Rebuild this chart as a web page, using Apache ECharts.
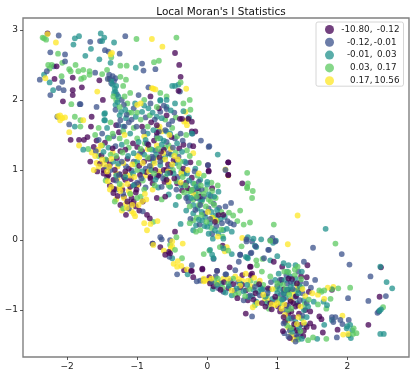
<!DOCTYPE html>
<html><head><meta charset="utf-8">
<style>html,body{margin:0;padding:0;background:#fff}#c{width:413px;height:376px}</style>
<script src="https://cdn.jsdelivr.net/npm/echarts@6/dist/echarts.min.js"></script>
</head><body><div id="c"></div>
<script>
const chartTitle = "Local Moran's I Statistics";
const xTicks = [-2,-1,0,1,2];
const yTicks = [-1,0,1,2,3];
const classNames = ['-10.80, -0.12','-0.12, -0.01','-0.01, 0.03','0.03, 0.17','0.17, 10.56'];
const classLow = ['-10.80,','-0.12,','-0.01,','0.03,','0.17,'];
const classHigh = ['-0.12','-0.01','0.03','0.17','10.56'];
const classColors = ['#440154','#3b528b','#21918c','#5ec962','#fde725'];

const purple = [[-2.28,2.95],[-.46,2.67],[-.40,2.50],[-.38,2.33],[-2.15,2.48],[-2.18,2.30],[-1.92,2.32],[-1.92,2.14],[-1.92,2.07],[-1.79,2.18],[-2.06,1.98],[-1.54,2.28],[-1.49,2.0],
[-1.95,1.43],[-1.76,1.43],[-1.71,1.47],[-1.66,1.62],[-1.65,1.76],[-1.30,1.64],[-.80,1.68],[-.84,1.36],[-1.83,1.43],[-1.67,1.12],[-1.53,1.09],[-1.44,1.14],[-1.35,1.31],[-1.17,1.29],[-1.24,1.27],[-1.48,1.0],[-1.41,.93],[-1.12,1.02],[-.96,.93],[-.62,1.0],[-.81,.88],[-.58,.86],[-1.34,.86],[-1.17,.86],[-1.0,1.33],
[-.72,1.64],[-.69,1.88],[-.81,2.05],[-.39,1.73],[-.22,1.69],[-.17,1.55],[-.34,1.36],[-.20,1.34],[.30,1.11],[.30,.93],[.02,.99],[.01,1.07],[.50,.81],[.07,.74],[-.22,.89],[-.48,1.14],[-.74,1.0],[-.53,.96],[-.58,1.0],[-.43,.81],[-.72,1.53],[-.62,1.29],
[.16,.36],[.23,.36],[.11,.26],[.22,-.08],[.32,-.39],[-.07,-.42],[-.23,-.44],[.14,-.44],[.62,-.38],[.95,-.31],[1.07,-.38],[.62,-.5],
[.64,-.48],[.61,-.38],[.5,-.5],[.04,-.62],[.19,-.71],[.3,-.69],[.5,-.64],[.58,-.86],[.69,-.76],[.78,-.9],[.9,-.9],[.92,-.99],[1.04,-1.02],[.55,-1.05],[1.23,-1.1],[1.11,-1.17],[1.28,-1.29],[1.09,-.71],[1.16,-.55],[1.3,-.71],[1.19,-.86],[1.26,-.95],
[1.43,-.36],[1.42,-.53],[1.78,-.71],[1.09,-1.1],[1.16,-1.05],[1.23,-1.26],[1.33,-1.21],[1.47,-1.19],[1.52,-1.24],[1.6,-1.09],[1.65,-1.32],[1.86,-1.28],[2.3,-1.21],[1.63,-1.13],[1.19,-.88],[1.3,-.93],[1.28,-.62],[1.47,-1.02],[1.28,-1.39],[1.38,-1.29],[1.4,-1.0],[1.23,-.9],[2.48,-.39],[2.46,-.81],
[-1.34,.67],[-.98,.8],[-1.08,.6],[-1.08,.52],[-1.16,.36],[-.92,.55],[-.86,.36],[-.82,.31],[-.72,.6],[-.46,.12],[-.78,-.05],[-.67,-.1],[-.55,-.17],[-.53,-.19],[-.6,-.21],[-.33,-.43],[-1.19,.9],[-1.43,.9],[-1.48,.95],[-1.17,.98],[-.81,.9],[-1.02,.68],[-1.19,.62],[-1.02,.48],
[.02,.98],[.3,.93],[.3,1.11],[-.22,-.44],[-.2,-.53],[-.07,-.41],[-.36,.71],[-.3,.82],[-.1,.62],[-.41,2.13],[-.36,1.73],[-.27,1.73],[-.22,1.55],[-1.39,.78],[-1.32,1.0],[-1.1,.76],[-.9,1.12],[-.68,1.18],[-.6,.62],
[-1.62,1.33],[-1.57,.98],[-1.51,1.21],[-1.46,1.39],[-1.39,1.08],[-1.33,.73],[-1.29,1.17],[-1.25,.94],[-1.21,.72],[-1.14,1.16],[-1.09,.87],[-1.06,1.38],[-1.01,.72],[-.97,1.06],[-.93,1.27],[-.87,.97],[-.83,1.16],[-.78,.81],[-.76,1.42],[-.7,.92],[-.66,1.26],[-.61,.83],[-.56,1.08],[-.51,1.47],[-.47,.88],[-.4,1.31],[-.34,1.02],[-.28,.74],[-.24,1.11],[-.13,.74],
[.03,-.53],[.09,-.66],[.24,-.6],[.37,-.63],[.43,-.83],[.47,-.68],[.55,-.72],[.66,-.85],[.74,-.63],[.83,-.95],[.87,-.69],[.97,-.81],[1.01,-.95],[1.06,-.57],[1.13,-.93],[1.18,-1.4],[1.21,-.56],[1.24,-1.2],[1.27,-.8],[1.31,-1.05],[1.34,-.52],[1.37,-1.37],[1.42,-1.24],[1.45,-.74],[1.15,-.71],[1.08,-1.3],[1.2,-1.02],
[-1.58,1.42],[-1.26,1.54],[-.93,1.62],[-.58,1.78],[-1.14,.55],[-1.28,.63],[-1.05,.55],[-.97,.42],[-1.24,.5]];

const blue = [[-2.12,2.92],[-1.67,2.83],[-1.53,2.84],[-1.17,2.91],[-2.24,2.68],[-2.03,2.65],[-1.46,2.71],[-1.41,2.69],[-1.25,2.66],[-.93,2.52],[-.91,2.42],[-.74,2.44],[-2.39,2.29],[-2.29,2.41],[-2.19,2.48],[-2.07,2.26],[-2.12,2.17],[-2.05,2.14],[-2.24,2.07],[-2.03,2.55],[-1.81,1.94],[-1.60,2.39],[-1.58,1.90],[-2.14,1.76],[-1.97,1.65],[-1.39,2.3],[-1.35,2.34],[-1.42,2.3],[-1.37,2.24],[-1.33,2.27],[-.84,2.18],
[-1.82,1.94],[-1.31,1.86],[-1.24,1.71],[-1.15,1.79],[-1.05,1.88],[-.98,2.07],[-.67,1.83],[-.81,1.95],[-1.27,1.64],[-1.55,1.43],[-.91,1.55],[-.72,1.48],[-.58,1.4],[-.96,1.24],[-.77,1.17],[-1.22,1.12],[-1.38,1.0],[-1.26,.93],[-.88,1.02],[-1.08,.99],[-.67,.95],
[-.39,2.12],[-.58,1.87],[-.47,1.82],[-.5,1.7],[-.09,1.42],[.02,1.33],[-.21,1.52],[.26,1.0],[-.6,1.57],[-.79,1.19],[-.67,1.12],[-.46,1.45],[-.41,1.19],[-.55,1.24],[-.72,.9],[-.34,.79],[-.12,.83],[-.65,.76],[.03,1.34],[.01,1.07],
[.05,.63],[.34,.53],[-.1,.5],[-.05,.62],[-.17,.43],[.02,.45],[.26,.48],[.07,.09],[.33,.24],[.38,.22],[.21,.24],[.56,.01],[.64,-.02],[.9,0],[.97,-.02],[.88,-.14],[.69,-.09],[.63,-.18],[.81,-.26],[.47,-.21],[.09,-.27],[.45,-.31],[-.22,-.36],[.26,-.49],
[.14,-.44],[.27,-.49],[.4,-.43],[-.05,-.57],[.16,-.69],[.23,-.74],[.61,-.79],[.52,-.86],[.64,-1.09],[.8,-.7],[.97,-.86],[1.09,-.84],[1.04,-.57],[1.16,-.95],[1.09,-1.19],[1.16,-1.38],[1.26,-1.36],[1.3,-.45],
[2.03,-.35],[2.33,-.52],[2.01,-.83],[2.3,-.87],[1.38,-.31],[1.54,-.57],[1.33,-.6],[1.48,-.68],[1.9,-1.14],[1.83,-1.1],[1.78,-1.1],[1.8,-1.17],[2.02,-1.14],[1.93,-1.2],[1.14,-.62],[1.1,-.76],[1.26,-.81],[1.42,-.9],[1.26,-1.45],[1.33,-1.36],[1.11,-1.0],[1.2,-1.12],[2.45,-1.02],[2.43,-1.04],[2.55,-.8],[1.51,-.11],[1.92,-.2],[1.85,-1.39],[.62,-.19],[.47,-.21],[.93,.03],[.87,-.14],[.56,-.02],
[-.67,.04],[-.65,.01],[-.53,0],[-.78,-.05],[-.54,-.24],[-.43,-.49],[-.15,-.59],[-.1,-.58],[-1.12,.45],[-.92,.41],[-1.3,.85],[-1.0,.82],[-.2,.72],[-.3,.6],[-.42,.9],[-1.05,1.12],[-.25,1.35],[-.3,1.1],[-.35,1.42],[-.55,1.65],
[-1.4,2.36],[-1.31,2.31],[-1.29,2.08],[-1.22,2.0],[-1.19,1.93],[-1.12,1.68],[-1.01,1.62],[-1.59,1.27],[-1.44,1.04],[-1.31,1.34],[-1.16,1.05],[-1.04,.79],[-.94,.88],[-.86,1.38],[-.82,1.06],[-.74,1.28],[-.69,1.55],[-.63,.88],[-.52,1.05],[-.49,1.32],[-.44,.72],[-.38,1.52],[-.33,.95],[-.27,.55],[-.18,.98],[-.15,.6],[-.08,.72],[-.03,.38],[.04,.3],[.09,.52],[.13,.2],[.17,.46],[.29,.27],[-.24,.3],[-.11,.22],
[.06,-.6],[.12,-.52],[.33,-.58],[.39,-.72],[.44,-.6],[.68,-.67],[.75,-.79],[.86,-.76],[.91,-.6],[1.0,-.66],[1.05,-.78],[1.13,-.5],[1.19,-.6],[1.22,-.7],[1.32,-.86],[1.36,-.76],[1.1,-1.33],[1.18,-1.29],[1.3,-1.32],[1.36,-1.08],[1.41,-.62],
[-1.5,1.52],[-1.34,1.48],[-1.18,1.62],[-1.08,1.72],[-.88,1.75],[-.75,1.72],[-.62,1.92],[-1.2,.66],[-1.3,.72],[-.88,.75]];

const teal = [[-1.89,2.88],[-1.83,2.91],[-1.91,2.79],[-1.66,2.73],[-1.52,2.95],[-1.47,2.89],[-1.50,2.84],[-1.33,2.82],[-1.74,2.63],[-1.54,2.58],[-1.38,2.53],[-1.02,2.46],[-2.33,2.36],[-2.25,2.25],[-2.20,2.14],[-1.47,1.80],[-1.89,1.62],[-1.77,1.29],[-1.46,1.71],[-1.33,2.10],[-1.28,1.97],[-1.3,2.2],[-1.35,2.22],
[-1.31,2.12],[-1.46,1.81],[-1.47,1.71],[-1.43,1.6],[-1.17,1.86],[-1.31,1.93],[-1.03,1.95],[-.67,2.0],[-.58,1.9],[-.65,1.74],[-.84,1.88],[-.93,1.83],[-1.2,1.62],[-1.1,1.52],[-.77,1.57],[-.58,1.55],[-.88,1.43],[-.65,1.36],[-1.48,1.26],[-1.22,1.36],[-1,1.12],[-.93,.98],[-.67,1.07],[-1.34,1.12],[-1.17,.9],[-1.05,1.24],[-.79,1.29],
[-.67,1.99],[-.58,2.0],[-.46,1.95],[-.34,1.84],[-.26,1.75],[-.22,1.52],[.15,1.22],[-.17,1.02],[-.72,1.76],[-.53,1.52],[-.67,1.45],[-.43,1.38],[-.36,1.26],[-.77,1.12],[-.6,1.19],[-.2,.81],[-.1,.86],[-.29,.95],[-.48,.95],[-.74,.86],[0,.79],[-.53,.76],[-.46,2.2],[-.41,2.22],[-.5,2.2],
[-.15,.76],[0,.83],[.16,.69],[-.1,.57],[-.2,.38],[-.2,.14],[-.03,.33],[.14,.43],[-.12,.29],[.04,.24],[.23,.14],[.35,.12],[.11,.14],[0,.19],[.77,.01],[.66,.02],[.58,.04],[.7,-.1],[.07,-.21],[.09,-.26],[.04,-.14],[.57,-.25],[.23,-.12],[.35,-.2],[.9,-.29],[1.0,-.23],[1.09,-.33],[.23,.02],[.55,-.24],[.58,-.26],[.94,-.04],[.98,-.01],[.68,-.08],
[.47,-.62],[.35,-.79],[.14,-.64],[.42,-.69],[.66,-.71],[.73,-.74],[.83,-.81],[.59,-.81],[1.0,-.76],[1.09,-.76],[1.14,-.71],[1.04,-.62],[.97,-.57],[1.26,-.55],[1.14,-.45],[1.02,-.48],[.57,-.64],[.78,-.71],[.88,-.71],
[1.35,-.45],[1.26,-.36],[1.16,-.36],[1.11,-.57],[1.19,-.67],[1.3,-.76],[1.38,-.86],[1.52,-.88],[1.66,-.88],[1.71,-.93],[1.78,-1.14],[2.04,-1.21],[1.99,-1.26],[2.07,-1.29],[2.02,-1.36],[1.38,-1.0],[1.26,-1.17],[1.21,-1.31],[1.35,-1.41],[1.42,-1.1],[1.4,-1.21],[1.57,-1.41],[1.28,-.9],[1.67,-1.21],[2.05,-1.4],[2.0,-1.23],
[2.47,-.38],[2.56,-.6],[2.64,-.69],[1.69,.16],[2.47,-1.34],[2.52,-1.34],[2.48,-.99],[2.46,-1.01],[-.38,.23],[-.5,-.26],[-.28,-.49],[-1.05,.78],[-1.3,.92],[-.55,.65],[-.45,.5],[-.28,.62],[-.2,.5],[-.08,.4],[-.3,.42],
[-1.37,2.28],[-1.32,2.16],[-1.27,2.05],[-1.23,1.83],[-1.16,1.74],[-1.41,1.32],[-1.27,1.09],[-1.13,1.2],[-1.06,.95],[-.98,1.4],[-.9,1.22],[-.85,1.52],[-.8,1.0],[-.73,1.22],[-.7,.75],[-.62,1.42],[-.57,.95],[-.52,1.22],[-.45,1.1],[-.41,.62],[-.37,.78],[-.32,1.12],[-.26,.85],[-.23,.6],[-.17,.67],[-.14,.45],[-.07,.58],[-.04,.2],[.02,.65],[.06,.4],[.1,.62],[.12,.35],[.19,.3],[.25,.33],[.28,.16],[-.16,.21],[-.07,.28],[.02,.09],[.08,.02],[.16,.1],
[.08,-.7],[.2,-.62],[.26,-.75],[.31,-.66],[.52,-.73],[.64,-.8],[.7,-.88],[.76,-.68],[.85,-.9],[.93,-.84],[1.03,-.7],[1.07,-.85],[1.12,-.82],[1.18,-.52],[1.23,-.62],[1.32,-.66],[1.16,-1.12],[1.31,-1.25],[1.44,-.95],
[-1.42,1.46],[-1.25,1.78],[-1.02,1.76],[-.9,1.92],[-.78,1.82],[-.52,1.85]];

const green = [[-2.35,2.89],[-2.30,2.86],[-2.33,2.88],[-2.13,2.66],[-2.07,2.53],[-1.37,2.61],[-1.24,2.49],[-1.15,2.49],[-1.01,2.87],[-.76,2.54],[-.69,2.56],[-.44,2.89],[-2.25,2.45],[-2.27,2.50],[-2.22,2.50],[-2.08,2.34],[-1.94,1.94],[-1.97,2.44],[-1.95,2.41],[-1.88,2.50],[-1.84,2.41],[-1.77,2.43],[-1.68,2.41],[-1.68,2.36],[-1.80,2.30],[-1.76,2.32],[-1.50,2.37],[-1.43,2.43],[-1.89,1.76],[-1.81,1.71],[-1.81,1.62],[-1.30,2.0],[-1.25,1.9],[-1.16,2.29],[-1.24,2.33],[-1.1,2.1],[-1.2,2.2],[-.67,2.1],[-.38,2.25],[-.25,2.0],[-.34,1.95],[-.24,1.86],[-.58,2.05],[-.9,2.0],
[-1.7,1.3],[-1.6,1.5],[-1.5,1.35],[-1.4,1.45],[-1.3,1.2],[-1.55,1.2],[-1.25,1.45],[-1.15,1.4],[-1.0,1.45],[-1.05,1.6],[-.95,1.72],[-.85,1.62],[-.7,1.6],[-.6,1.72],[-.5,1.6],[-.45,1.75],[-.95,1.3],[-.85,1.18],[-.7,1.3],[-.55,1.35],[-.45,1.25],[-.3,1.5],[-1.45,.85],[-1.25,.8],[-1.0,1.0],[-.75,.78],[-.6,.9],[-.4,1.05],[-.35,.9],[-.25,1.2],[-.12,1.1],[-.05,.92],[-.22,.72],[-.12,.68],[-.02,.72],[.06,.82],[.57,.96],[.58,.81],[.57,.76],[.57,.74],[.65,.70],[.64,.60],[-.9,.72],[-.95,.62],[-.65,.58],[-.4,.62],
[.47,.42],[.31,.39],[.37,.35],[.43,.27],[.52,.22],[.61,.25],[.95,.22],[-.15,.62],[-.08,.55],[.05,.55],[-.25,.48],[-.12,.5],[-.15,.32],[-.25,.24],[-.1,.14],[.1,.5],[.08,.32],[.2,.4],[.22,.05],[.18,-.1],[.9,-.01],[.49,-.09],[1.83,-.05],[.7,-.29],[.79,-.27],[.71,-.36],[1.16,-.46],[1.29,-.38],[1.25,-.42],[.03,-.15],[-.05,-.2],[.3,-.15],
[2.04,-.68],[1.87,-.69],[1.78,-.7],[1.67,-.72],[1.63,-.74],[1.6,-.72],[1.76,-.84],[2.09,-1.26],[2.13,-1.33],[2.08,-1.34],[1.51,-1.39],[1.70,-1.41],[2.51,-.96],[1.44,-1.43],[1.3,-1.42],[1.2,-1.25],[1.45,-.85],[1.58,-.92],[1.7,-.98],[1.2,-.72],[1.35,-.68],[1.25,-.5],[1.1,-.45],[1.0,-.62],[.9,-.52],[.85,-.8],[.7,-.62],[.6,-.7],[.45,-.76],[.3,-.62],[.1,-.58],[.78,-.45],[.62,-.58],[1.05,-.9],[1.15,-1.0],[1.35,-1.12],[1.2,-.98],
[-.44,.04],[-.46,-.14],[-.53,-.07],[-.36,-.26],[-.77,.26],[-1.0,.6],[-1.1,.66],
[-1.34,2.05],[-1.18,2.05],[-1.14,1.95],[-1.08,1.82],[-1.35,1.52],[-1.2,1.55],[-1.45,1.15],[-1.38,1.22],[-1.21,1.25],[-1.12,1.32],[-1.03,1.08],[-.92,.85],[-.89,1.38],[-.82,1.3],[-.76,.95],[-.71,1.45],[-.64,1.15],[-.6,1.32],[-.55,.78],[-.49,1.0],[-.43,1.48],[-.38,1.12],[-.33,.68],[-.29,1.28],[-.26,.7],[-.2,.58],[-.18,.8],[-.14,.92],[-.09,.78],[-.05,.66],[-.02,.48],[.02,.58],[.07,.7],[.12,.6],[.15,.78],[-.08,.36],[-.01,.26],[.06,.17],[.14,.27],[.2,.15],[-.2,.28],[-.16,.12],[-.24,.7],[-.31,.78],[-.37,.98],[-.44,.84],
[.15,-.55],[.22,-.68],[.37,-.55],[.4,-.78],[.54,-.8],[.68,-.93],[.8,-.64],[.88,-.98],[.98,-.7],[1.08,-.64],[1.12,-.7],[1.17,-.78],[1.27,-.72],[1.34,-.56],[1.39,-.92],[1.14,-1.22],[1.33,-1.3],[1.02,-.84],
[-1.55,1.6],[-1.38,1.68],[-1.12,1.82],[-1.0,1.82],[-.82,1.78],[-.72,1.9],[-1.32,.55],[-1.2,.45]];

const yellow = [[-2.28,2.94],[-2.16,2.82],[-.79,2.87],[-.64,2.76],[-1.36,2.67],[-1.38,2.65],[-2.31,2.31],[-1.57,2.12],[-1.40,2.3],[-2.1,1.78],[-2.07,1.74],[-2.1,1.71],[-2.03,1.75],[-2.13,1.77],[-1.97,1.54],[-1.77,1.71],[-1.83,1.35],[-.79,2.17],[-.74,2.15],[-.77,2.16],[-.3,2.16],[-.31,1.83],[-.29,1.64],[-.33,1.69],[-.3,1.7],[-1.0,1.93],[-.95,1.95],
[-1.6,1.2],[-1.65,1.25],[-1.58,1.1],[-1.62,1.0],[-1.55,1.05],[-1.52,1.35],[-1.5,1.15],[-1.4,1.05],[-1.35,1.25],[-1.3,.95],[-1.2,1.1],[-1.22,.78],[-1.1,.92],[-1.0,1.2],[-.92,1.1],[-.85,1.3],[-.8,1.05],[-.72,1.18],[-.78,.72],[-.6,1.15],[-.5,1.08],[-.42,1.15],[-.65,1.55],[-.72,1.35],[-.9,1.48],[-1.18,1.5],[-.38,.82],[-.28,1.0],[-.12,.95],[.26,1.01],[.3,.92],[-.55,.83],[-.52,1.3],
[-1.39,.72],[-1.37,.76],[-1.24,.70],[-1.19,.6],[-1.12,.7],[-1.1,.66],[-.89,.66],[-.93,.55],[-.87,.58],[-1.15,.46],[-1.08,.41],[-1.03,.34],[-1.05,.38],[-.90,.24],[-.81,.23],[-.71,.27],[-.86,.14],[-1.28,.88],[-1.0,.78],
[-.35,-.05],[-.77,-.07],[-.62,-.15],[-.5,-.09],[-.48,-.34],[-.43,-.38],[-.37,-.37],[-.29,-.42],[-.05,-.59],[-.02,-.58],[-.5,-.02],[-.42,-.3],[-.52,-.12],
[1.29,.35],[.5,.03],[1.15,-.06],[.12,.28],[.07,.32],[.15,.05],[.25,-.16],[.28,-.1],
[.03,-.58],[.14,-.62],[.3,-.55],[.45,-.56],[.55,-.48],[.5,-.58],[.62,-.66],[.75,-.58],[.72,-.9],[.65,-.96],[.92,-.92],[1.0,-.9],[1.15,-.75],[1.2,-.85],[1.29,-.65],[1.4,-.8],[1.5,-.76],[1.33,-.95],[1.3,-1.1],[1.15,-1.15],[1.16,-1.25],[1.2,-1.35],[1.38,-1.18],[1.1,-.92],[.93,-.7],[.35,-.72],[.82,-.84],
[1.8,-.67],[1.93,-1.08],[1.94,-1.35],[2.01,-1.34],[1.72,-.68],[1.67,-.84],[1.58,-.78],[1.23,-1.42],[-.05,-.55],
[-1.56,1.29],[-1.47,1.08],[-1.43,.98],[-1.37,1.16],[-1.28,1.05],[-1.26,.74],[-1.16,.94],[-1.14,.8],[-1.07,1.08],[-1.04,.9],[-.97,1.18],[-.88,.92],[-.83,.98],[-.75,1.1],[-.68,.98],[-.63,1.24],[-.56,.98],[-.47,1.2],[-.37,.95],[-.2,1.24],[-.68,1.62],[-.54,1.5],[-.2,.66],[.01,.4],
[.06,-.55],[.17,-.6],[.23,-.55],[.4,-.52],[.47,-.65],[.58,-.58],[.67,-.54],[.8,-.78],[.86,-.86],[.97,-.93],[1.06,-.98],[1.23,-.78],[1.36,-.7],[1.11,-1.07],[1.28,-1.2],
[-1.3,.58],[-1.16,.52],[-1.07,.5],[-1.22,.42],[-.98,.5],[-1.42,.84]];

const classData = [purple, blue, teal, green, yellow];
const layers = 7;

const series = [];
for (let k = 0; k < layers; k++) {
  classData.forEach((arr, i) => {
    series.push({
      type: 'scatter', name: classNames[i], symbolSize: 5.8, silent: true,
      itemStyle: { color: classColors[i], opacity: 0.75 },
      data: arr.filter((_, j) => j % layers === k),
      animation: false
    });
  });
}
const minus = v => String(v).replace('-', '\u2212');
const axisBase = {
  type: 'value', splitLine: { show: false },
  axisLine: { show: false, onZero: false },
};
const tickLabel = vals => ({ color: '#222', fontSize: 9, margin: 5, customValues: vals, formatter: minus, fontFamily: 'DejaVu Sans' });
const tickMark = vals => ({ show: true, length: 3, lineStyle: { color: '#333', width: 0.8 }, customValues: vals });
const legendCell = (width) => ({ width, align: 'right', fontSize: 8.8, fontFamily: 'DejaVu Sans', color: '#222' });
const option = {
  animation: false,
  backgroundColor: '#fff',
  textStyle: { fontFamily: 'DejaVu Sans' },
  title: { text: chartTitle, left: 216, top: 2, textAlign: 'center',
    textStyle: { fontFamily: 'DejaVu Sans', fontSize: 10.5, fontWeight: 'normal', color: '#111' } },
  grid: { left: 23, right: 4, top: 18, bottom: 19, show: true, borderColor: '#808080', borderWidth: 1.4 },
  xAxis: { ...axisBase, min: -2.63, max: 2.88, axisTick: tickMark(xTicks), axisLabel: tickLabel(xTicks) },
  yAxis: { ...axisBase, min: -1.67, max: 3.17, axisTick: tickMark(yTicks), axisLabel: tickLabel(yTicks) },
  legend: {
    data: classNames, orient: 'vertical', left: 316, top: 22, padding: [3, 4, 1, 9],
    itemWidth: 12, itemHeight: 9, itemGap: 3.8, icon: 'circle',
    backgroundColor: 'rgba(255,255,255,0.8)', borderColor: '#ccc', borderWidth: 0.8, borderRadius: 2,
    selectedMode: false,
    itemStyle: { opacity: 0.75 },
    formatter: name => {
      const i = classNames.indexOf(name);
      return '{a|' + classLow[i] + '}{' + (i === 0 || i === 4 ? 'c' : 'b') + '|' + classHigh[i] + '}';
    },
    textStyle: { fontFamily: 'DejaVu Sans', fontSize: 8.8, color: '#222',
      rich: { a: legendCell(32), b: legendCell(24), c: legendCell(27) } }
  },
  series
};
echarts.init(document.getElementById('c'), null, { renderer: 'canvas' }).setOption(option);
</script></body></html>
